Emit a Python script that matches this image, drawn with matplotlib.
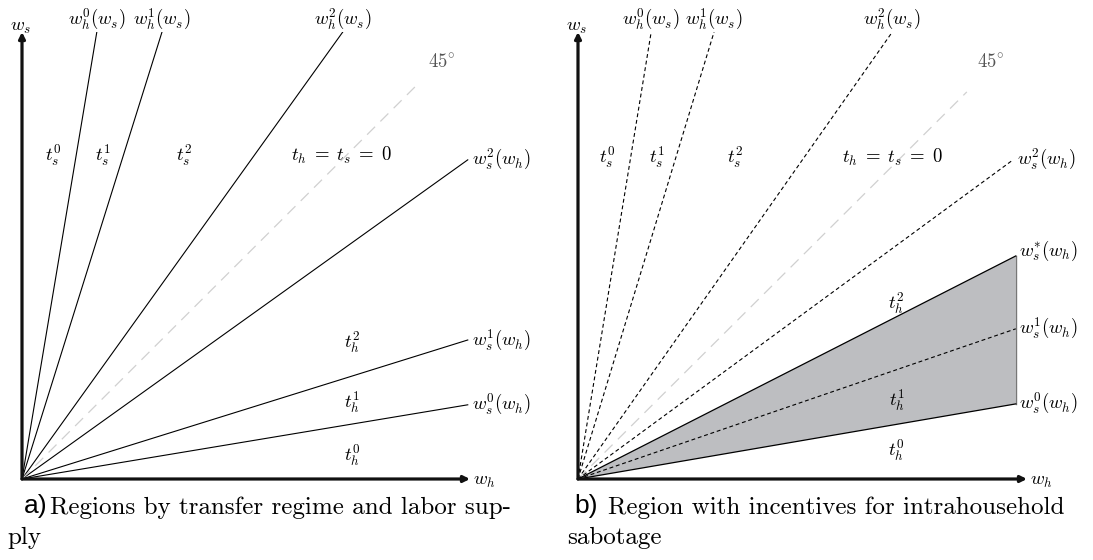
import matplotlib
matplotlib.use("Agg")
import matplotlib.pyplot as plt

plt.rcParams['mathtext.fontset'] = 'cm'

# ray end points (w_h, w_s) in axis units, panel a
rays_a_hw = [0.167, 0.3125, 0.716]      # w_h^k(w_s): x at w_s = 1
rays_a_sw = [0.166, 0.311, 0.714]       # w_s^k(w_h): y at w_h = 1
diag_a = 0.886
# panel b
rays_b_hw = [0.163, 0.303, 0.70]
rays_b_sw = [0.168, 0.336, 0.714]
rays_b_sx = [0.975, 0.975, 0.969]
star_b = 0.499
diag_b = 0.866

hw_labels = [r'$w_h^0(w_s)$', r'$w_h^1(w_s)$', r'$w_h^2(w_s)$']
sw_labels = [r'$w_s^0(w_h)$', r'$w_s^1(w_h)$', r'$w_s^2(w_h)$']
ts_labels = [r'$t_s^0$', r'$t_s^1$', r'$t_s^2$']
th_labels = [r'$t_h^0$', r'$t_h^1$', r'$t_h^2$']
zero_label = r'$t_h\;=\;t_s\;=\;0$'

W, H = 1093, 560
fig = plt.figure(figsize=(W/100, H/100), dpi=100)

def px_axes(x0, x1, y0, y1):
    ax = fig.add_axes([x0/W, (H-y0)/H, (x1-x0)/W, (y0-y1)/H])
    ax.set_xlim(0, 1)
    ax.set_ylim(0, 1)
    ax.axis('off')
    return ax

def axes_arrows(ax):
    for xy in [(1, 0), (0, 1)]:
        ax.annotate('', xy=xy, xytext=(0, 0), annotation_clip=False,
                    arrowprops=dict(arrowstyle='-|>', lw=2.3, color='#111111',
                                    mutation_scale=9, shrinkA=0, shrinkB=0))
    ax.text(1.007, -0.004, r'$w_h$', fontsize=fs, ha='left', va='center')
    ax.text(-0.004, 1.012, r'$w_s$', fontsize=fs, ha='center', va='center')

fs = 13.5
dash_gray = dict(color='#d0d0d0', lw=0.9, dashes=(9, 6))

# ---- panel a
ax = px_axes(22, 470, 479, 32)
for xe, lab in zip(rays_a_hw, hw_labels):
    ax.plot([0, xe], [0, 1], color='black', lw=0.8)
    ax.text(xe, 1.027, lab, fontsize=fs, ha='center', va='center')
for ye, lab in zip(rays_a_sw, sw_labels):
    ax.plot([0, 0.995], [0, ye], color='black', lw=0.8)
    ax.text(1.005, ye, lab, fontsize=fs, ha='left', va='center')
ax.plot([0, diag_a], [0, diag_a], **dash_gray)
ax.text(0.9375, 0.933, r'$45^{\circ}$', fontsize=fs, ha='center', va='center', color='#555555')
for x, lab in zip([0.069, 0.181, 0.362], ts_labels):
    ax.text(x, 0.725, lab, fontsize=fs, ha='center', va='center')
ax.text(0.714, 0.725, zero_label, fontsize=fs, ha='center', va='center')
for y, lab in zip([0.054, 0.172, 0.306], th_labels):
    ax.text(0.737, y, lab, fontsize=fs, ha='center', va='center')
axes_arrows(ax)

# ---- panel b
bx = px_axes(578, 1027, 479, 32)
xs = rays_b_sx[0]
bx.fill([0, xs, xs], [0, star_b, rays_b_sw[0]], color='#bdbec1', lw=0, zorder=1)
bx.plot([xs, xs], [rays_b_sw[0], star_b], color='#777777', lw=1, zorder=2)
for xe, lab in zip(rays_b_hw, hw_labels):
    bx.plot([0, xe], [0, 1], color='black', lw=0.8, dashes=(3.5, 2.5))
    bx.text(xe, 1.027, lab, fontsize=fs, ha='center', va='center')
for i, (xe, ye, lab) in enumerate(zip(rays_b_sx, rays_b_sw, sw_labels)):
    if i == 0:
        bx.plot([0, xe], [0, ye], color='black', lw=0.9, zorder=3)
    else:
        bx.plot([0, xe], [0, ye], color='black', lw=0.8, dashes=(3.5, 2.5), zorder=3)
    bx.text(xe + 0.008, ye, lab, fontsize=fs, ha='left', va='center')
bx.plot([0, xs], [0, star_b], color='black', lw=0.9, zorder=3)
bx.text(xs + 0.008, star_b + 0.012, r'$w_s^{*}(w_h)$', fontsize=fs, ha='left', va='center')
bx.plot([0, diag_b], [0, diag_b], **dash_gray)
bx.text(0.918, 0.933, r'$45^{\circ}$', fontsize=fs, ha='center', va='center', color='#555555')
for x, lab in zip([0.065, 0.176, 0.35], ts_labels):
    bx.text(x, 0.72, lab, fontsize=fs, ha='center', va='center')
bx.text(0.70, 0.72, zero_label, fontsize=fs, ha='center', va='center')
for y, lab in zip([0.065, 0.177, 0.394], th_labels):
    bx.text(0.71, y, lab, fontsize=fs, ha='center', va='center')
axes_arrows(bx)

# ---- captions
cap = dict(fontsize=18, family='cmr10', va='center', ha='left')
lab = dict(fontsize=19, family='Liberation Sans', va='center', ha='left')
fig.text(24/W, 1 - 506/H, 'a)', **lab)
fig.text(50/W, 1 - 508/H, 'Regions by transfer regime and labor sup-', **cap)
fig.text(7/W, 1 - 538/H, 'ply', **cap)
fig.text(574/W, 1 - 506/H, 'b)', **lab)
fig.text(608/W, 1 - 508/H, 'Region with incentives for intrahousehold', **cap)
fig.text(567/W, 1 - 538/H, 'sabotage', **cap)

fig.savefig('out.png', dpi=100)
